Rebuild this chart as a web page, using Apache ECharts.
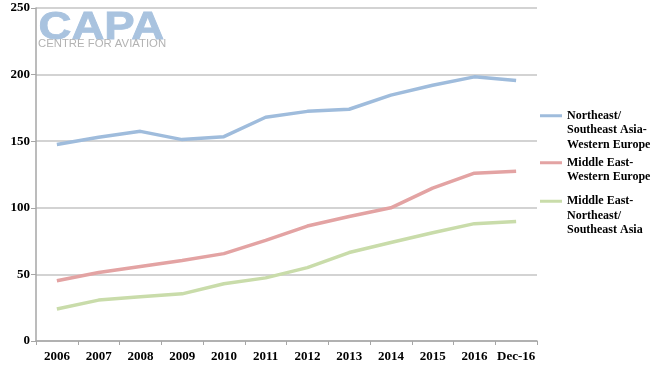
<!DOCTYPE html>
<html>
<head>
<meta charset="utf-8">
<script src="https://cdn.jsdelivr.net/npm/echarts@6/dist/echarts.min.js"></script>
<style>
html,body{margin:0;padding:0;background:#fff;}
#chart{width:657px;height:370px;}
</style>
</head>
<body>
<div id="chart"></div>
<script>
var categories = ['2006','2007','2008','2009','2010','2011','2012','2013','2014','2015','2016','Dec-16'];
var nameAsiaEurope = 'Northeast/\nSoutheast Asia-\nWestern Europe';
var nameMEEurope = 'Middle East-\nWestern Europe';
var nameMEAsia = 'Middle East-\nNortheast/\nSoutheast Asia';
var asiaEurope = [147.5, 153, 157.4, 151.2, 153.4, 168, 172.4, 174, 184.6, 192, 198.3, 195.6];
var meEurope = [45.2, 51.4, 56, 60.4, 65.6, 75.6, 86.3, 93.5, 100, 114.8, 126, 127.5];
var meAsia = [24, 30.7, 33.2, 35.4, 43, 47.4, 55.1, 66.4, 73.9, 81.3, 88.1, 89.8];
var yTicks = {min: 0, max: 250, interval: 50};

var serif = '"Liberation Serif", "DejaVu Serif", serif';
var chart = echarts.init(document.getElementById('chart'), null, {renderer: 'canvas'});

// prepend blank lines so the legend icon sits beside the first text line
function topAligned(name) {
  var n = name.split('\n').length;
  var pre = '';
  for (var i = 1; i < n; i++) pre += ' \n';
  return pre + name;
}

function legendFor(name, top) {
  return {
    data: [{name: name, icon: 'rect'}],
    left: 540,
    top: top,
    padding: 0,
    itemWidth: 22,
    itemHeight: 3,
    selectedMode: false,
    formatter: topAligned,
    textStyle: {
      fontFamily: serif, fontWeight: 'bold', fontSize: 12, color: '#000',
      lineHeight: 14.5
    }
  };
}

chart.setOption({
  animation: false,
  grid: {left: 36, right: 120, top: 8, bottom: 29, containLabel: false},
  graphic: [
    {type: 'text', left: 38, top: 9, scaleX: 1.2, style: {text: 'CAPA', fontFamily: '"Liberation Sans", Arial, sans-serif', fontWeight: 'bold', fontSize: 38, fill: '#a9c3df', stroke: '#a9c3df', lineWidth: 0.8}},
    {type: 'text', left: 38, top: 39, scaleX: 1.08, style: {text: 'CENTRE FOR AVIATION', fontFamily: '"Liberation Sans", Arial, sans-serif', fontSize: 10.5, fill: '#b3b3b3'}}
  ],
  legend: [
    legendFor(nameAsiaEurope, 79.5),
    legendFor(nameMEEurope, 141),
    legendFor(nameMEAsia, 165)
  ],
  xAxis: {
    type: 'category',
    data: categories,
    boundaryGap: true,
    axisLine: {lineStyle: {color: '#a6a6a6', width: 1.5}},
    axisTick: {show: true, length: 4, lineStyle: {color: '#a6a6a6'}},
    axisLabel: {color: '#000', fontFamily: serif, fontWeight: 'bold', fontSize: 13, margin: 9, interval: 0},
    splitLine: {show: false}
  },
  yAxis: {
    type: 'value',
    min: yTicks.min, max: yTicks.max, interval: yTicks.interval,
    axisLine: {show: true, lineStyle: {color: '#a6a6a6', width: 1.5}},
    axisTick: {show: true, length: 5, lineStyle: {color: '#a6a6a6'}},
    axisLabel: {color: '#000', fontFamily: serif, fontWeight: 'bold', fontSize: 13, margin: 6},
    splitLine: {show: true, lineStyle: {color: '#c4c4c4', width: 1.5}}
  },
  series: [
    {name: nameAsiaEurope, type: 'line', data: asiaEurope, symbol: 'none', color: '#9fbcdc', lineStyle: {width: 3.5, color: '#9fbcdc'}},
    {name: nameMEEurope, type: 'line', data: meEurope, symbol: 'none', color: '#e3a3a3', lineStyle: {width: 3.5, color: '#e3a3a3'}},
    {name: nameMEAsia, type: 'line', data: meAsia, symbol: 'none', color: '#c9dcaa', lineStyle: {width: 3.5, color: '#c9dcaa'}}
  ]
});
</script>
</body>
</html>
